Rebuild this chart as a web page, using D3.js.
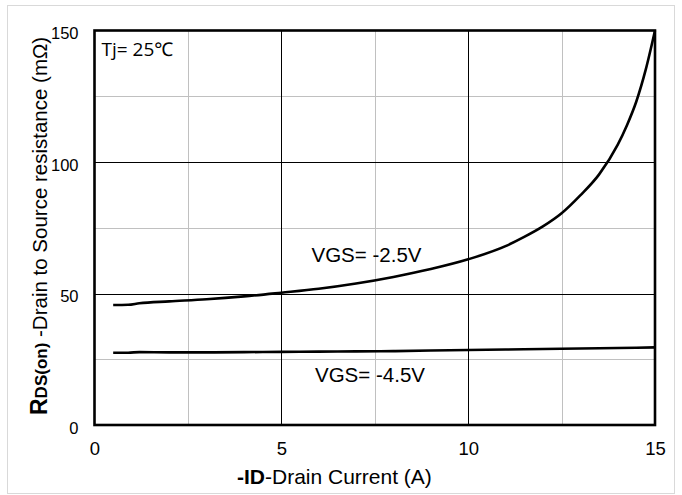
<!DOCTYPE html>
<html>
<head>
<meta charset="utf-8">
<script src="https://cdn.jsdelivr.net/npm/d3@7"></script>
<style>
html,body{margin:0;padding:0;background:#fff;}
svg{display:block;}
</style>
</head>
<body>
<svg id="chart" width="682" height="495"></svg>
<script>
// ---- data ----
const xTicks = [0, 5, 10, 15];
const yTicks = [0, 50, 100, 150];
const xMinor = [2.5, 7.5, 12.5];
const yMinor = [25, 75, 125];

const idVgs25 = [0.5, 0.9, 1.2, 2, 3, 4, 5, 6, 7, 8, 9, 10, 11, 11.5, 12, 12.5, 13, 13.5, 14, 14.25, 14.5, 14.75, 15];
const rdsVgs25 = [45.6, 45.7, 46.3, 47, 47.8, 48.9, 50.3, 51.8, 53.8, 56.3, 59.3, 63, 68, 71.5, 75.5, 80.5, 87.3, 95.2, 106.5, 114, 123, 135, 150];

const idVgs45 = [0.5, 0.9, 1.2, 2, 3, 4, 5, 6, 7, 8, 9, 10, 11, 12, 13, 14, 15];
const rdsVgs45 = [27.5, 27.5, 27.7, 27.6, 27.6, 27.7, 27.8, 27.9, 28.0, 28.1, 28.3, 28.5, 28.7, 28.9, 29.1, 29.3, 29.5];

const seriesLabels = ["VGS= -2.5V", "VGS= -4.5V"];
const noteText = "Tj= 25℃";

// ---- layout ----
const svg = d3.select("#chart");
const L = 94.5, R = 655, T = 30.5, B = 425;
const x = d3.scaleLinear().domain([0, 15]).range([L, R]);
const y = d3.scaleLinear().domain([0, 150]).range([B, T]);
const arial = "'Liberation Sans', Arial, sans-serif";

// outer border
svg.append("rect").attr("x", 7.5).attr("y", 5.5).attr("width", 667).attr("height", 488)
  .attr("fill", "none").attr("stroke", "#d9d9d9").attr("stroke-width", 1);

// minor grid
const g = svg.append("g");
g.selectAll(".vx").data(xMinor).join("line")
  .attr("x1", d => Math.round(x(d)) + 0.5).attr("x2", d => Math.round(x(d)) + 0.5)
  .attr("y1", T).attr("y2", B).attr("stroke", "#c0c0c0").attr("stroke-width", 1);
g.selectAll(".hy").data(yMinor).join("line")
  .attr("y1", d => Math.round(y(d)) + 0.5).attr("y2", d => Math.round(y(d)) + 0.5)
  .attr("x1", L).attr("x2", R).attr("stroke", "#c0c0c0").attr("stroke-width", 1);
// major grid
g.selectAll(".vmx").data(xTicks.slice(1, -1)).join("line")
  .attr("x1", d => Math.round(x(d)) + 0.5).attr("x2", d => Math.round(x(d)) + 0.5)
  .attr("y1", T).attr("y2", B).attr("stroke", "#000").attr("stroke-width", 1);
g.selectAll(".hmy").data(yTicks.slice(1, -1)).join("line")
  .attr("y1", d => Math.round(y(d)) + 0.5).attr("y2", d => Math.round(y(d)) + 0.5)
  .attr("x1", L).attr("x2", R).attr("stroke", "#000").attr("stroke-width", 1);

// curves
const line = d3.line().x(d => x(d[0])).y(d => y(d[1])).curve(d3.curveMonotoneX);
svg.append("path").datum(d3.zip(idVgs25, rdsVgs25)).attr("d", line)
  .attr("fill", "none").attr("stroke", "#000").attr("stroke-width", 2.6);
svg.append("path").datum(d3.zip(idVgs45, rdsVgs45)).attr("d", line)
  .attr("fill", "none").attr("stroke", "#000").attr("stroke-width", 2.6);

// frame
svg.append("rect").attr("x", L).attr("y", T).attr("width", R - L).attr("height", B - T)
  .attr("fill", "none").attr("stroke", "#000").attr("stroke-width", 2.6);

// axes (labels only)
const xAxis = d3.axisBottom(x).tickValues(xTicks).tickSize(0).tickPadding(0).tickFormat(d3.format("d"));
const xa = svg.append("g").attr("transform", `translate(0,${B})`).call(xAxis);
xa.select(".domain").remove();
xa.selectAll("text").attr("font-family", arial).attr("font-size", 18.5).attr("fill", "#000")
  .attr("y", 24).attr("dy", "0.32em");

const yAxis = d3.axisLeft(y).tickValues(yTicks).tickSize(0).tickPadding(0).tickFormat(d3.format("d"));
const ya = svg.append("g").attr("transform", `translate(${L},0)`).call(yAxis);
ya.select(".domain").remove();
ya.selectAll("text").attr("font-family", arial).attr("font-size", 16.5).attr("fill", "#000")
  .attr("x", -16).attr("dy", "0.5em");

// series labels
svg.append("text").attr("x", 311.5).attr("y", 261.5).attr("font-family", arial).attr("font-size", 20.5)
  .text(seriesLabels[0]);
svg.append("text").attr("x", 315).attr("y", 382).attr("font-family", arial).attr("font-size", 20.5)
  .text(seriesLabels[1]);

// note
svg.append("text").attr("x", 101.5).attr("y", 56).attr("font-family", "'Open Sans', 'Noto Sans', sans-serif")
  .attr("font-size", 19).text(noteText);

// x title
const xt = svg.append("text").attr("x", 237).attr("y", 484.3).attr("font-family", arial).attr("font-size", 21);
xt.append("tspan").attr("font-weight", "bold").text("-ID");
xt.append("tspan").text("-Drain Current (A)");

// y title
const yt = svg.append("text").attr("transform", "translate(46.5,415) rotate(-90)")
  .attr("font-family", arial).attr("font-size", 20.5);
yt.append("tspan").attr("font-weight", "bold").attr("font-size", 23).text("R");
yt.append("tspan").attr("font-weight", "bold").attr("font-size", 17).text("DS(on)");
yt.append("tspan").text(" -Drain to Source resistance (mΩ)");
</script>
</body>
</html>
